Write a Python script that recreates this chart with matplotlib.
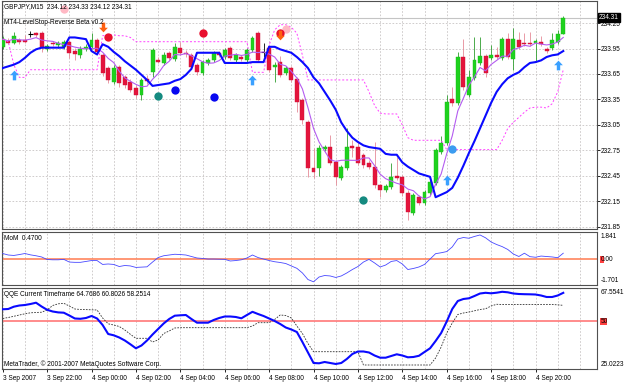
import matplotlib
matplotlib.use("Agg")
import matplotlib.pyplot as plt
import numpy as np
import pandas as pd
from matplotlib.path import Path
from matplotlib.patches import Rectangle

plt.rcParams["font.family"] = ["Liberation Sans", "DejaVu Sans"]

# ---- data (GBPJPY M15, 3 Sep 2007 20:00 -> 4 Sep 2007 21:15) ----
opens = [233.97, 234.04, 234.01, 234.05, 234.05, 234.12, 234.13, 234.13, 233.94, 234.01,
         233.99, 233.97, 234.03, 233.92, 233.87, 233.94, 233.97, 234.05, 233.87, 233.72,
         233.56, 233.73, 233.61, 233.56, 233.48, 233.40, 233.59, 233.67, 233.81, 233.78,
         233.90, 233.83, 233.96, 233.90, 233.87, 233.76, 233.66, 233.78, 233.81, 233.90,
         233.85, 233.96, 233.81, 233.85, 233.81, 233.93, 234.13, 233.91, 233.96, 233.73,
         233.79, 233.66, 233.72, 233.59, 233.34, 233.08, 232.54, 232.54, 232.77, 232.79,
         232.61, 232.43, 232.54, 232.80, 232.79, 232.70, 232.60, 232.56, 232.34, 232.28,
         232.32, 232.45, 232.44, 232.25, 232.01, 232.20, 232.13, 232.25, 232.37, 232.73,
         232.84, 233.36, 233.31, 233.85, 233.40, 233.60, 233.78, 233.86, 233.84, 233.87,
         233.84, 234.06, 233.83, 234.05, 234.02, 234.02, 234.01, 234.03, 233.94, 233.96,
         234.03, 234.12]
highs = [234.10, 234.07, 234.14, 234.07, 234.11, 234.16, 234.14, 234.16, 234.00, 234.04,
         234.04, 234.05, 234.05, 233.96, 233.98, 234.00, 234.13, 234.07, 233.90, 233.74,
         233.76, 233.76, 233.64, 233.59, 233.52, 233.60, 233.64, 233.96, 233.85, 233.91,
         233.92, 234.01, 234.03, 233.93, 233.90, 233.78, 233.81, 233.84, 233.92, 233.92,
         233.96, 233.98, 233.90, 233.87, 233.96, 234.10, 234.16, 234.01, 233.98, 233.79,
         233.86, 233.74, 233.74, 233.61, 233.37, 233.11, 232.78, 232.81, 232.81, 232.93,
         232.64, 232.58, 233.01, 232.87, 232.85, 232.72, 232.64, 232.85, 232.36, 232.36,
         232.60, 232.67, 232.46, 232.28, 232.25, 232.23, 232.28, 232.40, 232.78, 232.92,
         233.40, 233.50, 233.91, 234.06, 233.70, 234.08, 234.08, 233.88, 233.99, 233.97,
         234.08, 234.13, 234.19, 234.14, 234.13, 234.14, 234.06, 234.10, 233.97, 234.13,
         234.17, 234.33]
lows = [233.94, 234.00, 234.00, 234.00, 234.01, 234.08, 234.08, 233.91, 233.92, 233.98,
        233.96, 233.94, 233.84, 233.81, 233.84, 233.92, 233.94, 233.87, 233.63, 233.54,
        233.53, 233.50, 233.48, 233.44, 233.37, 233.34, 233.53, 233.61, 233.78, 233.76,
        233.81, 233.80, 233.87, 233.85, 233.71, 233.64, 233.64, 233.76, 233.79, 233.85,
        233.83, 233.81, 233.79, 233.80, 233.79, 233.91, 233.79, 233.85, 233.67, 233.56,
        233.61, 233.64, 233.56, 233.20, 233.06, 232.44, 232.43, 232.45, 232.74, 232.58,
        232.34, 232.40, 232.52, 232.67, 232.58, 232.54, 232.53, 232.31, 232.20, 232.26,
        232.30, 232.40, 232.21, 231.93, 231.99, 232.11, 232.11, 232.23, 232.34, 232.71,
        232.81, 233.27, 233.28, 233.46, 233.38, 233.58, 233.76, 233.61, 233.81, 233.83,
        233.81, 233.83, 233.70, 233.94, 233.98, 233.98, 233.79, 233.98, 233.90, 233.93,
        234.00, 234.12]
closes = [234.06, 234.02, 234.10, 234.03, 234.03, 234.12, 234.11, 233.96, 233.98, 234.00,
          234.01, 234.03, 233.90, 233.89, 233.94, 233.97, 234.05, 233.91, 233.66, 233.58,
          233.72, 233.54, 233.52, 233.46, 233.40, 233.58, 233.57, 233.93, 233.79, 233.87,
          233.84, 233.97, 233.90, 233.88, 233.73, 233.67, 233.79, 233.81, 233.90, 233.87,
          233.93, 233.84, 233.87, 233.83, 233.93, 234.07, 233.81, 233.91, 233.70, 233.76,
          233.64, 233.72, 233.58, 233.32, 233.11, 232.54, 232.50, 232.78, 232.79, 232.60,
          232.44, 232.56, 232.79, 232.78, 232.60, 232.58, 232.56, 232.34, 232.28, 232.33,
          232.44, 232.43, 232.25, 232.03, 232.23, 232.13, 232.26, 232.38, 232.76, 232.84,
          233.32, 233.31, 233.85, 233.50, 233.61, 233.81, 233.86, 233.66, 233.87, 233.85,
          234.06, 233.85, 234.06, 233.97, 234.00, 234.00, 234.04, 234.00, 233.92, 234.05,
          234.12, 234.31]

# LevelStop-Reverse line (thick blue) and stop levels (dashed magenta)
stop_line = [233.72, 233.74, 233.76, 233.79, 233.84, 233.90, 233.94, 233.96, 233.96, 233.96,
             233.96, 233.96, 234.08, 234.08, 234.07, 234.06, 233.92, 233.88, 234.00, 233.97,
             233.91, 233.86, 233.80, 233.75, 233.70, 233.64, 233.58, 233.51, 233.52, 233.53,
             233.54, 233.57, 233.59, 233.64, 233.71, 233.90, 233.90, 233.90, 233.90, 233.90,
             233.78, 233.78, 233.78, 233.78, 233.78, 233.79, 233.79, 233.79, 233.97, 233.97,
             233.94, 233.92, 233.90, 233.85, 233.79, 233.72, 233.61, 233.54, 233.44, 233.34,
             233.23, 233.08, 232.98, 232.90, 232.85, 232.81, 232.79, 232.78, 232.77, 232.71,
             232.70, 232.70, 232.61, 232.56, 232.52, 232.48, 232.46, 232.44, 232.20, 232.23,
             232.26, 232.31, 232.43, 232.57, 232.72, 232.86, 233.01, 233.16, 233.31, 233.44,
             233.53, 233.60, 233.64, 233.67, 233.73, 233.78, 233.79, 233.81, 233.85, 233.87,
             233.88, 233.92]
trail_line = [234.06, 234.03, 233.76, 233.61, 233.61, 233.70, 233.70, 233.70, 233.70, 233.70,
              233.70, 233.70, 233.70, 233.70, 233.70, 233.70, 233.70, 233.70, 234.10, 234.11,
              234.11, 234.10, 234.10, 234.08, 234.03, 234.03, 234.03, 234.03, 234.03, 234.03,
              234.03, 234.03, 234.03, 234.03, 234.03, 234.03, 234.03, 234.03, 234.03, 234.03,
              234.03, 234.03, 234.03, 234.03, 234.03, 233.67, 233.67, 233.67, 233.99, 234.17,
              234.23, 234.23, 234.20, 234.13, 233.87, 233.58, 233.58, 233.58, 233.58, 233.58,
              233.58, 233.58, 233.58, 233.58, 233.58, 233.58, 233.44, 233.28, 233.19, 233.18,
              233.18, 233.18, 233.05, 232.90, 232.87, 232.87, 232.87, 232.87, 232.87, 232.87,
              232.76, 232.76, 232.76, 232.76, 232.76, 232.76, 232.76, 232.76, 232.76, 232.76,
              232.87, 233.01, 233.08, 233.14, 233.20, 233.25, 233.26, 233.26, 233.25, 233.30,
              233.44, 233.70]

mom = [0.37, 0.27, 0.24, 0.30, 0.37, 0.28, 0.22, 0.14, -0.03, -0.05,
       -0.05, -0.02, -0.20, -0.22, -0.22, -0.16, -0.10, -0.10, -0.36, -0.33,
       -0.36, -0.50, -0.43, -0.46, -0.56, -0.54, -0.52, -0.20, 0.10, 0.22,
       0.27, 0.32, 0.30, 0.27, 0.17, 0.07, 0.04, 0.00, 0.00, -0.01,
       -0.02, -0.13, -0.10, -0.05, 0.07, 0.27, 0.10, 0.00, -0.10, -0.18,
       -0.23, -0.30, -0.46, -0.62, -0.93, -1.37, -1.52, -1.20, -1.10, -1.13,
       -1.23, -1.13, -0.93, -0.70, -0.50, -0.20, -0.02, -0.26, -0.53, -0.40,
       -0.16, -0.10, -0.33, -0.70, -0.63, -0.53, -0.36, 0.00, 0.36, 0.42,
       0.50, 0.81, 1.34, 1.44, 1.39, 1.51, 1.61, 1.42, 1.14, 0.97,
       0.83, 0.64, 0.34, 0.17, 0.39, 0.16, 0.12, 0.20, 0.17, 0.14,
       0.09, 0.39]

qqe_fast = [56.18, 56.34, 57.54, 58.16, 58.42, 58.94, 59.62, 57.64, 55.92, 55.03,
            54.56, 54.40, 52.94, 51.38, 51.22, 51.64, 52.68, 51.38, 47.98, 43.29,
            42.61, 41.46, 39.90, 37.92, 35.83, 37.29, 39.90, 43.03, 45.90, 48.77,
            51.12, 52.84, 53.05, 53.20, 51.12, 49.19, 49.19, 49.19, 50.59, 51.64,
            52.42, 52.42, 52.16, 51.48, 53.20, 54.87, 53.72, 52.68, 51.38, 50.07,
            48.51, 46.68, 45.64, 44.33, 39.12, 33.64, 28.16, 28.00, 28.68, 28.16,
            27.64, 28.16, 30.25, 32.85, 34.16, 34.16, 33.64, 32.07, 30.92, 30.92,
            31.81, 32.70, 32.07, 31.13, 31.29, 31.92, 33.90, 35.83, 39.64, 43.81,
            49.81, 56.34, 60.51, 61.55, 61.92, 63.12, 64.42, 64.79, 64.53, 64.84,
            65.31, 65.05, 64.42, 64.16, 64.06, 64.00, 63.90, 63.38, 62.60, 62.60,
            63.38, 64.77]
qqe_slow = [51.38, 51.90, 52.53, 53.20, 53.83, 54.35, 54.50, 54.66, 55.81, 58.16,
            59.04, 59.30, 57.90, 56.34, 56.07, 56.02, 55.92, 55.81, 51.64, 48.61,
            47.98, 47.20, 45.38, 43.13, 41.04, 41.04, 41.04, 39.12, 40.16, 43.55,
            44.86, 46.42, 46.58, 46.58, 46.58, 46.58, 46.58, 46.58, 46.58, 46.58,
            46.58, 46.58, 46.58, 46.58, 46.58, 47.46, 49.19, 49.19, 49.19, 50.86,
            53.20, 52.94, 51.64, 47.46, 43.55, 38.33, 34.05, 34.05, 34.05, 34.05,
            34.05, 34.05, 34.05, 34.05, 34.05, 27.11, 27.11, 27.11, 27.11, 27.11,
            27.11, 27.11, 27.11, 27.11, 27.11, 27.11, 27.11, 27.11, 30.77, 36.51,
            43.81, 49.03, 53.46, 54.24, 54.77, 55.40, 56.07, 56.44, 57.90, 58.79,
            58.68, 58.68, 58.68, 58.68, 58.68, 58.68, 58.68, 58.68, 58.68, 58.68,
            58.50, 58.25]

# signal markers: (bar index, price)
up_arrow_bars = [2, 45, 80, 100]
up_arrow_prices = [233.64, 233.58, 232.40, 233.76]
down_arrow_bars = [18, 50]
down_arrow_prices = [234.20, 234.11]
red_dot_bars = [19, 36, 50]
red_dot_prices = [234.08, 234.13, 234.13]
pink_dot_bars = [11, 51]
pink_dot_prices = [234.41, 234.18]
blue_dot_bars = [31, 38]
blue_dot_prices = [233.46, 233.38]
teal_dot_bars = [28, 65]
teal_dot_prices = [233.39, 232.17]
sky_dot_bars = [81]
sky_dot_prices = [232.77]

label_bars = [0, 8, 16, 24, 32, 40, 48, 56, 64, 72, 80, 88, 96]
time_labels = ["3 Sep 2007", "3 Sep 22:00", "4 Sep 00:00", "4 Sep 02:00", "4 Sep 04:00",
               "4 Sep 06:00", "4 Sep 08:00", "4 Sep 10:00", "4 Sep 12:00", "4 Sep 14:00",
               "4 Sep 16:00", "4 Sep 18:00", "4 Sep 20:00"]
price_ticks = [234.25, 233.95, 233.65, 233.35, 233.05, 232.75, 232.45, 232.15, 231.85]

# ---- layout (pixel boxes of the MT4 window) ----
W, H = 625, 382
fig = plt.figure(figsize=(W / 100, H / 100), dpi=100)
fig.patch.set_facecolor("white")


def place(x0, y0, x1, y1):
    return fig.add_axes([x0 / W, 1 - y1 / H, (x1 - x0) / W, (y1 - y0) / H])


ax = place(2, 1, 597, 229)
axm = place(2, 231.5, 597, 284.5)
axq = place(2, 287.5, 597, 369)

n = len(closes)
x = np.arange(n)
XL = (-0.13, 107.08)
GRID = dict(color="#c8c4c4", lw=0.6, ls=(0, (2, 2)))
FS = 4.7

for a in (ax, axm, axq):
    a.set_xlim(*XL)
    for s in a.spines.values():
        s.set_color("#505050")
        s.set_linewidth(0.8)
    for gx in range(0, n + 6, 4):
        a.axvline(gx, zorder=0, **GRID)
    a.tick_params(axis="x", length=0, labelbottom=False)
    a.yaxis.tick_right()
    a.tick_params(axis="y", length=2, width=0.6, pad=1, labelsize=FS, colors="black")

# ---- main price panel ----
ax.set_ylim(231.826, 234.509)
ax.set_yticks(price_ticks)
ax.set_yticklabels([f"{p:.2f}" for p in price_ticks])
for p in price_ticks:
    ax.axhline(p, zorder=0, **GRID)
ax.axhline(234.31, color="#c4c4c4", lw=0.8, zorder=0)

o = np.array(opens); c = np.array(closes); hi = np.array(highs); lo = np.array(lows)
up = c > o
dn = c < o
dj = c == o
ax.vlines(x[up], lo[up], hi[up], color="#2e9e2e", lw=0.6, zorder=2)
ax.vlines(x[dn], lo[dn], hi[dn], color="#e58a98", lw=0.6, zorder=2)
ax.vlines(x[dj], lo[dj], hi[dj], color="black", lw=0.6, zorder=2)
ax.bar(x[up], c[up] - o[up], bottom=o[up], width=0.7, color="#1ed21e",
       edgecolor="#18b818", lw=0.3, zorder=3)
ax.bar(x[dn], c[dn] - o[dn], bottom=o[dn], width=0.7, color="#e4143c",
       edgecolor="#cc1035", lw=0.3, zorder=3)
ax.hlines(c[dj], x[dj] - 0.4, x[dj] + 0.4, color="black", lw=0.8, zorder=3)

ma = pd.Series(closes).rolling(5, min_periods=1).mean()
ax.plot(x, ma, color="#b45cf0", lw=0.8, zorder=4)
ax.plot(x, trail_line, color="#ff40ff", lw=0.7, ls=(0, (2, 2)), zorder=4)
ax.plot(x, stop_line, color="#0a0aff", lw=1.5, zorder=5)

up_marker = Path([(0, 1), (-0.9, 0.05), (-0.35, 0.05), (-0.35, -1), (0.35, -1),
                  (0.35, 0.05), (0.9, 0.05), (0, 1)])
dn_marker = Path([(0, -1), (-0.9, -0.05), (-0.35, -0.05), (-0.35, 1), (0.35, 1),
                  (0.35, -0.05), (0.9, -0.05), (0, -1)])
ax.plot(pink_dot_bars, pink_dot_prices, "o", ms=6, color="#ffb8c4", mec="none", zorder=6)
ax.plot(red_dot_bars, red_dot_prices, "o", ms=6, color="#e8102e", mec="none", zorder=6)
ax.plot(blue_dot_bars, blue_dot_prices, "o", ms=6, color="#0808f0", mec="none", zorder=6)
ax.plot(teal_dot_bars, teal_dot_prices, "o", ms=6, color="#158a80", mec="none", zorder=6)
ax.plot(sky_dot_bars, sky_dot_prices, "o", ms=6, color="#3c9cf0", mec="none", zorder=6)
ax.plot(up_arrow_bars, up_arrow_prices, ls="none", marker=up_marker, ms=7,
        color="#3aa0ff", mec="none", zorder=7)
ax.plot(down_arrow_bars, down_arrow_prices, ls="none", marker=dn_marker, ms=7,
        color="#ff6010", mec="none", zorder=7)

ax.annotate("234.31", xy=(1.003, 234.31), xycoords=("axes fraction", "data"),
            fontsize=FS, color="white", va="center", ha="left", annotation_clip=False,
            bbox=dict(boxstyle="square,pad=0.15", fc="black", ec="black"))

# ---- momentum panel ----
axm.set_ylim(-1.701, 1.841)
axm.set_yticks([])
axm.axhline(0, color="#ff7a50", lw=1.1, zorder=1)
axm.plot(x, mom, color="#4848ff", lw=0.6, zorder=3)

# ---- QQE panel ----
axq.set_ylim(25.0223, 67.5541)
axq.set_yticks([])
axq.axhline(50, color="#ff7878", lw=1.2, zorder=1)
axq.plot(x, qqe_slow, color="#303030", lw=0.6, ls=(0, (2, 1.5)), zorder=2)
axq.plot(x, qqe_fast, color="#0a0aff", lw=1.5, zorder=3)
axq.set_xticks(label_bars)
axq.set_xticklabels(time_labels)
axq.tick_params(axis="x", length=2.5, width=0.6, pad=1.5, labelsize=FS, labelbottom=True)
for lbl in axq.get_xticklabels():
    lbl.set_horizontalalignment("left")

# ---- right-side scale labels of sub windows ----
def rtext(y, s, **kw):
    fig.text(600.5 / W, 1 - y / H, s, fontsize=FS, va="center", ha="left", zorder=5, **kw)

fig.patches.append(Rectangle((600 / W, 1 - 263 / H), 3.6 / W, 7 / H, transform=fig.transFigure,
                             fc="#ff4040", ec="none", zorder=1))
fig.patches.append(Rectangle((600 / W, 1 - 325 / H), 7 / W, 7 / H, transform=fig.transFigure,
                             fc="#ff4040", ec="none", zorder=1))
rtext(237, "1.841")
rtext(259.5, "0.00")
rtext(280, "-1.701")
rtext(292, "67.5541")
rtext(321.5, "50")
rtext(364.5, "25.0223")

# ---- window captions ----
def ltext(y, s):
    fig.text(4 / W, 1 - y / H, s, fontsize=FS, va="center", ha="left")

ltext(7, "GBPJPY,M15  234.12 234.33 234.12 234.31")
ltext(22, "MT4-LevelStop-Reverse Beta v0.2")
ltext(238, "MoM  0.4700")
ltext(294, "QQE Current Timeframe 64.7686 60.8026 58.2514")
ltext(364, "MetaTrader, \u00a9 2001-2007 MetaQuotes Software Corp.")

plt.savefig("out.png", dpi=100)
